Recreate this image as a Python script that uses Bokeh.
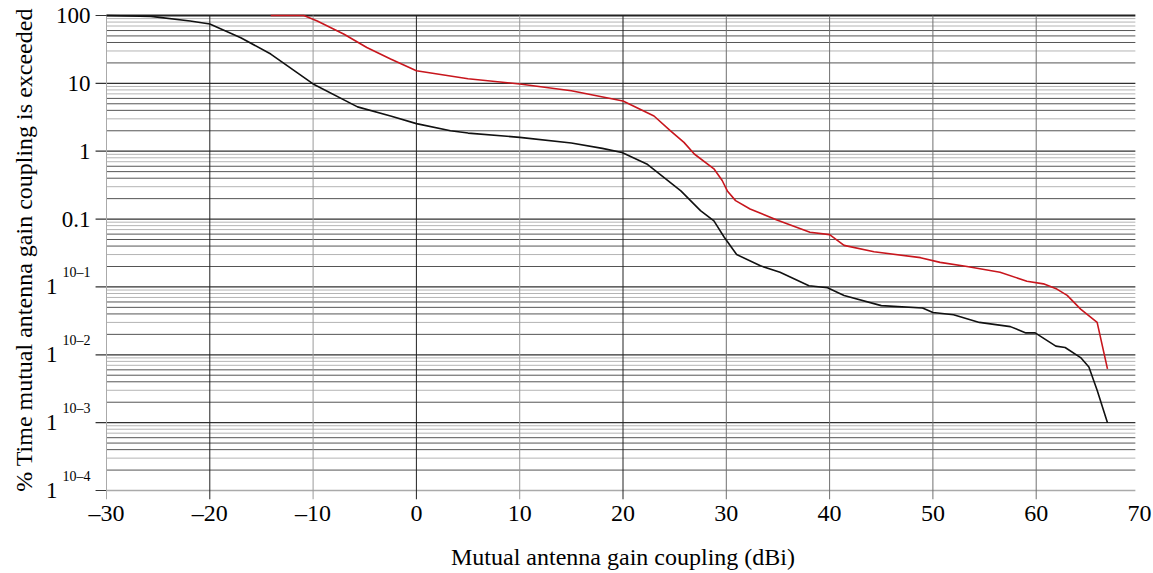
from bokeh.plotting import figure
from bokeh.models import FixedTicker, Range1d
from bokeh.core.properties import value
from bokeh.embed import file_html
from bokeh.resources import INLINE

# ---- data ----
black_x = [-30, -25.7, -21.9, -20, -17.0, -14.1, -10, -5.7, -2.5, 0, 3.3, 5, 10, 15, 18, 19.9,
           22.3, 25.6, 27.5, 28.8, 29.8, 31.0, 33.3, 35.2, 38.0, 39.8, 41.4, 45.0, 49.0, 50.0,
           52.0, 54.5, 57.5, 59.0, 59.9, 61.9, 62.8, 64.3, 65.1, 65.9, 66.9]
black_y = [100, 97, 83, 75, 47, 27, 9.8, 4.5, 3.3, 2.55, 2.0, 1.85, 1.6, 1.32, 1.1, 0.96,
           0.65, 0.26, 0.133, 0.094, 0.054, 0.03, 0.0205, 0.0164, 0.0104, 0.0097, 0.0075, 0.0053, 0.0049, 0.0042,
           0.0039, 0.0030, 0.0026, 0.0021, 0.0021, 0.00134, 0.00128, 0.00091, 0.00066, 0.0003, 0.0001]

red_x = [-14.1, -10.9, -9.6, -7.0, -4.8, -2.5, 0, 5, 10, 15, 20, 23, 24.6, 25.9, 26.9, 28.8,
         29.6, 30.1, 30.9, 32.3, 34.9, 38.1, 40.0, 41.4, 44.3, 48.8, 50.7, 53.3, 56.5, 59.1,
         60.7, 62.0, 63.0, 64.3, 65.9, 66.9]
red_y = [100, 100, 83, 53, 33.7, 22.8, 15.3, 11.7, 9.8, 7.8, 5.5, 3.3, 2.0, 1.35, 0.91, 0.55,
         0.37, 0.26, 0.187, 0.141, 0.097, 0.064, 0.059, 0.041, 0.033, 0.027, 0.023, 0.020, 0.0165, 0.0121,
         0.0111, 0.0093, 0.0075, 0.0047, 0.0030, 0.00062]

x_ticks = [-30, -20, -10, 0, 10, 20, 30, 40, 50, 60, 70]
x_tick_labels = ["–30", "–20", "–10", "0", "10", "20", "30", "40", "50", "60", "70"]
y_exponents = [-5, -4, -3, -2, -1, 0, 1, 2]
y_plain_exps = [2, 1, 0, -1]
y_plain_labels = ["100", "10", "1", "0.1"]
y_power_exps = [-2, -3, -4, -5]
y_power_labels = ["10–1", "10–2", "10–3", "10–4"]
x_title = "Mutual antenna gain coupling (dBi)"
y_title = "% Time mutual antenna gain coupling is exceeded"

FONT = "Liberation Serif"
X_LO, X_HI = -30, 69.6          # extent of the chart grid
Y_LO, Y_HI = 1e-5, 100
Y_FRAME_LO = 7.37e-6            # a little room below the last decade for its label

p = figure(width=1153, height=573, output_backend="svg", toolbar_location=None,
           y_axis_type="log",
           x_range=Range1d(-36.39, 70), y_range=Range1d(Y_FRAME_LO, 166.3),
           min_border_left=40, min_border_right=14, min_border_top=0, min_border_bottom=74)
p.outline_line_color = None
p.background_fill_color = "white"
p.xgrid.visible = False
p.ygrid.visible = False

# ---- horizontal grid lines (log decades and their 2..9 subdivisions) ----
majors = [10.0 ** e for e in y_exponents]
dark_minor, light_minor = [], []
for e in y_exponents[:-1]:
    for m in [2, 4, 5, 6]:
        dark_minor.append(m * 10.0 ** e)
    for m in [3, 7, 8, 9]:
        light_minor.append(m * 10.0 ** e)

for vals, color, w in [(light_minor, "#b4b4b4", 1), (dark_minor, "#555555", 1),
                       (majors[1:-1], "#303030", 1.3), (majors[:1], "#aaaaaa", 1.3)]:
    p.segment(x0=[X_LO] * len(vals), y0=vals, x1=[X_HI] * len(vals), y1=vals,
              line_color=color, line_width=w)
# top line at 100
p.segment(x0=[X_LO], y0=[Y_HI], x1=[X_HI], y1=[Y_HI], line_color="#222222", line_width=2)
# y major tick marks (outside the grid)
p.segment(x0=[-31.06] * len(majors), y0=majors, x1=[X_LO] * len(majors), y1=majors,
          line_color="#333333", line_width=1.2)

# ---- vertical grid lines (reaching a little below the grid, as ticks) ----
for xs, color in [([-30], "#aaaaaa"), ([-10, 10], "#9a9a9a"), ([30, 40, 50, 60], "#707070"),
                  ([-20, 0, 20], "#222222")]:
    p.segment(x0=xs, y0=[Y_FRAME_LO] * len(xs), x1=xs, y1=[Y_HI] * len(xs), line_color=color, line_width=1)

# ---- curves ----
p.line(black_x, black_y, line_color="#111111", line_width=1.6)
p.line(red_x, red_y, line_color="#c8161d", line_width=1.6)

# ---- y tick labels ----
p.text(x=[X_LO] * len(y_plain_exps), y=[10.0 ** e for e in y_plain_exps], text=y_plain_labels,
       text_font=value(FONT), text_font_size="23px", text_align="right", text_baseline="middle",
       x_offset=-16, text_color="black")
p.text(x=[X_LO] * len(y_power_exps), y=[10.0 ** e for e in y_power_exps], text=["1"] * len(y_power_exps),
       text_font=value(FONT), text_font_size="23px", text_align="right", text_baseline="middle",
       x_offset=-49, text_color="black")
p.text(x=[X_LO] * len(y_power_exps), y=[10.0 ** e for e in y_power_exps], text=y_power_labels,
       text_font=value(FONT), text_font_size="14px", text_align="right", text_baseline="middle",
       x_offset=-16, y_offset=-14, text_color="black")

# ---- x axis ----
xa = p.xaxis[0]
xa.ticker = FixedTicker(ticks=x_ticks)
xa.bounds = (x_ticks[0], x_ticks[-1])
xa.major_label_overrides = dict(zip(x_ticks, x_tick_labels))
xa.axis_line_color = None
xa.major_tick_line_color = None
xa.major_tick_out = 0
xa.major_tick_in = 0
xa.minor_tick_line_color = None
xa.major_label_text_font = FONT
xa.major_label_text_font_size = "24px"
xa.major_label_text_color = "black"
xa.major_label_standoff = 0
# non-breaking spaces shift the centred title over the grid (the frame also holds the y labels)
xa.axis_label = "\u00a0" * 11 + x_title
xa.axis_label_text_font = FONT
xa.axis_label_text_font_size = "24px"
xa.axis_label_text_font_style = "normal"
xa.axis_label_text_color = "black"
xa.axis_label_standoff = 15

# ---- y axis (title only) ----
ya = p.yaxis[0]
ya.ticker = FixedTicker(ticks=[])
ya.axis_line_color = None
ya.major_tick_line_color = None
ya.minor_tick_line_color = None
ya.major_tick_out = 0
ya.major_label_standoff = 0
ya.axis_label = y_title
ya.axis_label_text_font = FONT
ya.axis_label_text_font_size = "24px"
ya.axis_label_text_font_style = "normal"
ya.axis_label_text_color = "black"
ya.axis_label_standoff = 4

open("out.html", "w").write(file_html(p, INLINE))
